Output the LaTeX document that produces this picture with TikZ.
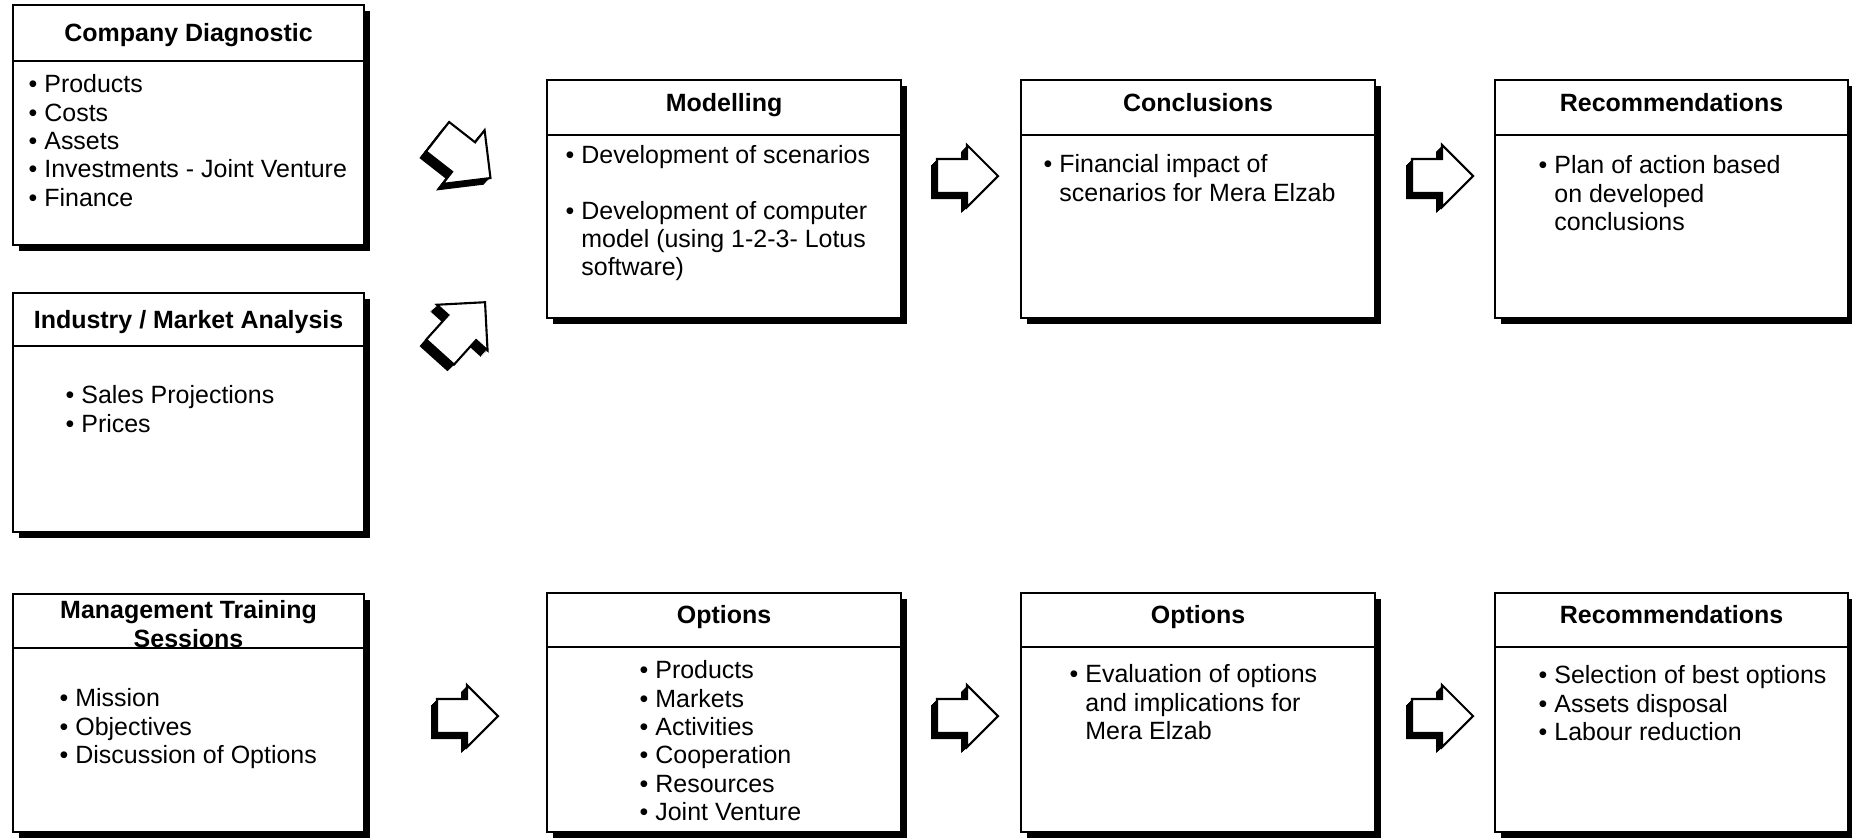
\documentclass[tikz,border=0pt]{standalone}
\usepackage{fontspec}
\setmainfont{Liberation Sans}
\usetikzlibrary{shadows,calc}

% indentation for wrapped bullet lines
\newcommand\hang{\hphantom{•\ }}
\newcommand\txtsize{\fontsize{7.1pt}{8.05pt}\selectfont}

\tikzset{
  panel/.style={draw, fill=white, line width=0.6pt, inner sep=0pt, anchor=north west,
    drop shadow={shadow xshift=0.055cm, shadow yshift=-0.055cm, fill=black, opacity=1}},
  rule/.style={line width=0.6pt},
  head/.style={font=\txtsize\bfseries, inner sep=0pt, align=center, anchor=north},
  items/.style={font=\txtsize, inner sep=0pt, align=left, anchor=north west},
  pics/blockarrow/.style={code={
    \foreach \k in {1,...,6}{
      \fill[black, shift={(-\k,\k)}, rotate=#1]
        (-27,-17) -- (3,-17) -- (3,-31) -- (34,0) -- (3,31) -- (3,17) -- (-27,17) -- cycle;
    }
    \draw[fill=white, line width=0.6pt, line join=miter, rotate=#1]
      (-27,-17) -- (3,-17) -- (3,-31) -- (34,0) -- (3,31) -- (3,17) -- (-27,17) -- cycle;
  }}
}

% panel: name, left, top, right, bottom, header rule
\newcommand\mkpanel[6]{%
  \node[panel, minimum width={(#4-#2)*0.01cm}, minimum height={(#5-#3)*0.01cm}] (#1) at (#2,#3) {};
  \draw[rule] (#1.west |- 0,#6) -- (#1.east |- 0,#6);
}

\begin{document}
\begin{tikzpicture}[x=0.01cm, y=-0.01cm]
\useasboundingbox (0,0) rectangle (1852,838);
\fill[white] (0,0) rectangle (1852,838);

% ---- panels ----
\mkpanel{cd}{12}{4}{363}{244}{61}
\mkpanel{ima}{12}{292}{363}{531}{346}
\mkpanel{mts}{12}{593}{363}{831}{648}
\mkpanel{mod}{546}{79}{900}{317}{135}
\mkpanel{con}{1020}{79}{1374}{317}{135}
\mkpanel{rec}{1494}{79}{1847}{317}{135}
\mkpanel{opt}{546}{592}{900}{831}{647}
\mkpanel{opt2}{1020}{592}{1374}{831}{647}
\mkpanel{rec2}{1494}{592}{1847}{831}{647}

% ---- headers ----
\node[head] (cd-h) at (cd.north |- 0,23) {Company Diagnostic};
\node[head] (ima-h) at (ima.north |- 0,310) {Industry / Market Analysis};
\node[head] (mts-h) at (mts.north |- 0,600) {Management Training\\Sessions};
\node[head] (mod-h) at (mod.north |- 0,93) {Modelling};
\node[head] (con-h) at (con.north |- 0,93) {Conclusions};
\node[head] (rec-h) at (rec.north |- 0,93) {Recommendations};
\node[head] (opt-h) at (opt.north |- 0,605) {Options};
\node[head] (opt2-h) at (opt2.north |- 0,605) {Options};
\node[head] (rec2-h) at (rec2.north |- 0,605) {Recommendations};

% ---- bullet lists ----
\node[items] (cd-t) at (28,74) {• Products\\• Costs\\• Assets\\• Investments - Joint Venture\\• Finance};
\node[items] (ima-t) at (65,385) {• Sales Projections\\• Prices};
\node[items] (mts-t) at (59,688) {• Mission\\• Objectives\\• Discussion of Options};
\node[items] (mod-t) at (565,145) {• Development of scenarios\\[7.7pt]• Development of computer\\\hang model (using 1-2-3- Lotus\\\hang software)};
\node[items] (con-t) at (1043,154) {• Financial impact of\\\hang scenarios for Mera Elzab};
\node[items] (rec-t) at (1538,155) {• Plan of action based\\\hang on developed\\\hang conclusions};
\node[items] (opt-t) at (639,660) {• Products\\• Markets\\• Activities\\• Cooperation\\• Resources\\• Joint Venture};
\node[items] (opt2-t) at (1069,664) {• Evaluation of options\\\hang and implications for\\\hang Mera Elzab};
\node[items] (rec2-t) at (1538,665) {• Selection of best options\\• Assets disposal\\• Labour reduction};

% ---- block arrows ----
\pic[scale=1.1] at (461,155) {blockarrow=-38};
\pic[scale=1.1] at (460,330) {blockarrow=48};
\pic at (964,176) {blockarrow=0};
\pic at (1439,176) {blockarrow=0};
\pic at (464,716) {blockarrow=0};
\pic at (964,716) {blockarrow=0};
\pic at (1439,716) {blockarrow=0};
\end{tikzpicture}
\end{document}
